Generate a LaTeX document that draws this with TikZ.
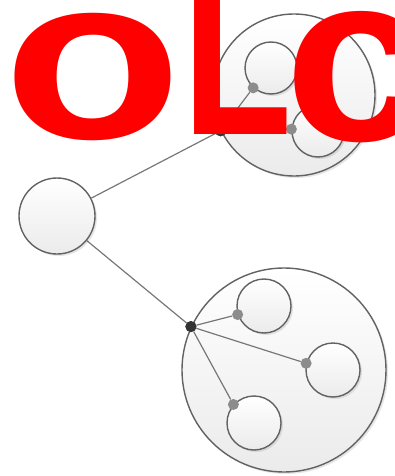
\documentclass[tikz,border=0pt]{standalone}
\usepackage{fontspec}
\newfontfamily\markfont{Liberation Sans}
\usetikzlibrary{shadows}
\definecolor{rimgrey}{HTML}{626262}
\definecolor{fillgrey}{HTML}{EBEBEB}
\definecolor{linkgrey}{HTML}{777777}
\definecolor{hubdark}{HTML}{333333}
\definecolor{portgrey}{HTML}{8C8C8C}
\definecolor{markred}{HTML}{FF0000}

\begin{document}
\begin{tikzpicture}[x=1pt, y=-1pt,
  blob/.style={circle, draw=rimgrey, line width=1.4pt, top color=white, bottom color=fillgrey,
               drop shadow={shadow xshift=2pt, shadow yshift=-2pt, opacity=0.2},
               inner sep=0pt, minimum size=#1},
  link/.style={draw=linkgrey, line width=1.2pt},
  hub/.style={circle, fill=hubdark, inner sep=0pt, minimum size=11pt},
  port/.style={circle, fill=portgrey, inner sep=0pt, minimum size=11pt},
  lettering/.style={font=\markfont\bfseries\fontsize{240}{240}\selectfont, text=markred,
               inner sep=0pt, anchor=base west},
]
\useasboundingbox (0,0) rectangle (394,476);
\clip (0,0) rectangle (394,476);
% left circle and the two groups
\node[blob=76pt] (root) at (57,216) {};
\node[blob=162pt] (grpA) at (294,95) {};
\node[blob=204pt] (grpB) at (284,370) {};
% inner circles
\node[blob=52pt] (innA1) at (271,68) {};
\node[blob=52pt] (innA2) at (318,131) {};
\node[blob=54pt] (innB1) at (264,306) {};
\node[blob=54pt] (innB2) at (333,370) {};
\node[blob=54pt] (innB3) at (254,423) {};
% hubs and ports
\node[hub] (hubA) at (grpA.206) {};
\node[hub] (hubB) at (grpB.155) {};
\node[port] (portA1) at (innA1.228) {};
\node[port] (portA2) at (innA2.176) {};
\node[port] (portB1) at (innB1.198) {};
\node[port] (portB2) at (innB2.166) {};
\node[port] (portB3) at (innB3.138) {};
% connectors
\draw[link] (root) -- (hubA);
\draw[link] (root) -- (hubB);
\draw[link] (hubA) -- (portA1);
\draw[link] (hubA) -- (portA2);
\draw[link] (hubB) -- (portB1);
\draw[link] (hubB) -- (portB2);
\draw[link] (hubB) -- (portB3);
\node[hub] at (hubA) {};
\node[hub] at (hubB) {};
% red lettering on top
\node[lettering, xscale=1.22, yscale=0.97] (lettero) at (3,139) {o};
\node[lettering, xscale=0.75] (letterL) at (182,135) {L};
\node[lettering, xscale=1.1] (letterc) at (284,140) {c};
\end{tikzpicture}
\end{document}
